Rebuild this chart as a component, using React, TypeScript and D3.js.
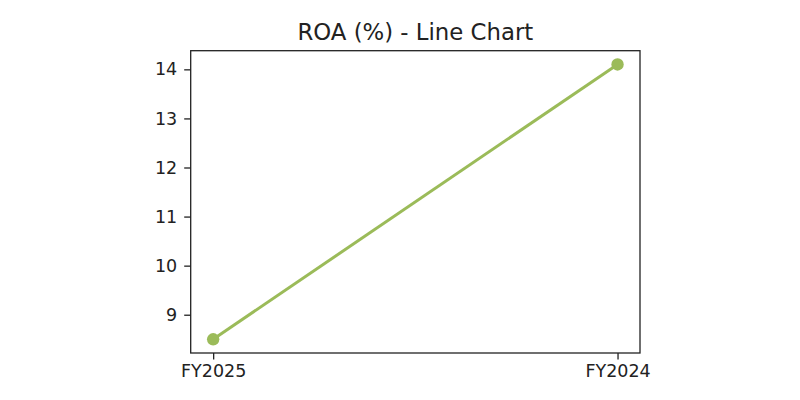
import { useEffect, useRef } from "react";
import * as d3 from "d3";

const categories = ["FY2025", "FY2024"];
const roaValues = [8.5, 14.1];
const yTicks = [9, 10, 11, 12, 13, 14];

export default function App() {
  const ref = useRef<SVGSVGElement>(null);

  useEffect(() => {
    if (!ref.current) return;
    const svg = d3.select(ref.current);
    svg.selectAll("*").remove();

    const margin = { top: 50.7, right: 160, bottom: 47, left: 190.7 };
    const width = 800 - margin.left - margin.right;
    const height = 400 - margin.top - margin.bottom;
    const font = "DejaVu Sans, sans-serif";

    const g = svg.append("g").attr("transform", `translate(${margin.left},${margin.top})`);

    // x: point positions with 5% margins like matplotlib
    const x = d3
      .scalePoint<string>()
      .domain(categories)
      .range([width * 0.05, width * 0.95]);

    const [lo, hi] = d3.extent(roaValues) as [number, number];
    const pad = (hi - lo) * 0.05;
    const y = d3.scaleLinear().domain([lo - pad, hi + pad]).range([height, 0]);

    // axes
    g.append("g")
      .attr("transform", `translate(0,${height})`)
      .call(d3.axisBottom(x).tickSize(6.5).tickPadding(5))
      .call((s) => s.select(".domain").remove())
      .call((s) => s.selectAll(".tick line").attr("stroke", "#222").attr("stroke-width", 1.3))
      .call((s) =>
        s.selectAll(".tick text").attr("fill", "#222").style("font-family", font).style("font-size", "17.5px")
      );

    g.append("g")
      .call(d3.axisLeft(y).tickValues(yTicks).tickSize(6.5).tickPadding(7).tickFormat(d3.format("d")))
      .call((s) => s.select(".domain").remove())
      .call((s) => s.selectAll(".tick line").attr("stroke", "#222").attr("stroke-width", 1.3))
      .call((s) =>
        s.selectAll(".tick text").attr("fill", "#222").style("font-family", font).style("font-size", "17.5px")
      );

    // frame
    g.append("rect")
      .attr("width", width)
      .attr("height", height)
      .attr("fill", "none")
      .attr("stroke", "#222")
      .attr("stroke-width", 1.3);

    const line = d3
      .line<number>()
      .x((_, i) => x(categories[i]) || 0)
      .y((d) => y(d));

    g.append("path")
      .datum(roaValues)
      .attr("d", line)
      .attr("fill", "none")
      .attr("stroke", "#9bbb59")
      .attr("stroke-width", 3);

    g.selectAll("circle")
      .data(roaValues)
      .enter()
      .append("circle")
      .attr("cx", (_, i) => x(categories[i]) || 0)
      .attr("cy", (d) => y(d))
      .attr("r", 6.2)
      .attr("fill", "#9bbb59");

    svg
      .append("text")
      .attr("x", margin.left + width / 2)
      .attr("y", 39.5)
      .attr("text-anchor", "middle")
      .attr("fill", "#222")
      .style("font-family", font)
      .style("font-size", "22.8px")
      .text("ROA (%) - Line Chart");
  }, []);

  return (
    <div style={{ position: "absolute", left: 0, top: 0 }}>
      <svg ref={ref} width={800} height={400} style={{ display: "block", background: "#fff" }} />
    </div>
  );
}
